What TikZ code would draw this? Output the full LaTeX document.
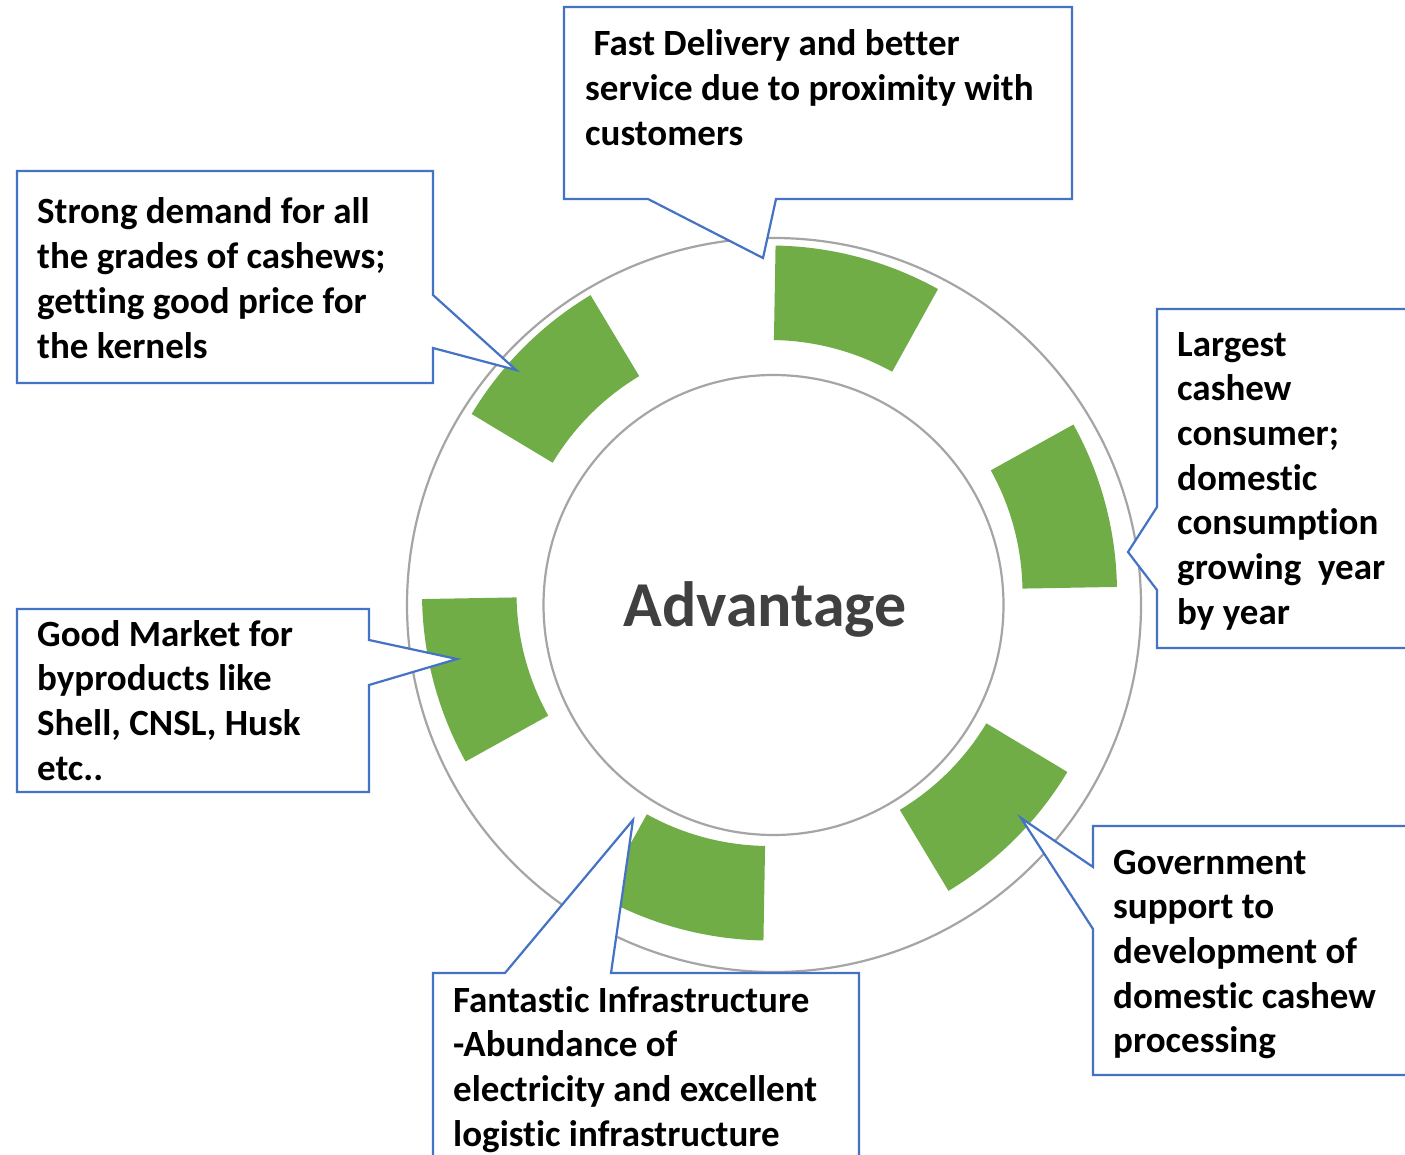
\documentclass[tikz,border=0pt]{standalone}
\usepackage{fontspec}
\setmainfont{Carlito}[Ligatures=NoCommon]
\definecolor{cgreen}{HTML}{70AD47}
\definecolor{cblue}{HTML}{4472C4}
\definecolor{cgray}{HTML}{A5A5A5}
\definecolor{ctext}{HTML}{404040}
\newcommand{\lblbox}[1]{\parbox[t]{700pt}{\fontsize{37}{44.7}\selectfont\bfseries #1}}
\tikzset{
  lbl/.style={anchor=base west, inner sep=0pt, text=black},
  callout/.style={draw=cblue, fill=white, line width=2.2pt, line join=miter},
  ring/.style={draw=cgray, line width=2.2pt},
  seg/.style={fill=cgreen},
}
\begin{document}
\begin{tikzpicture}[x=1pt,y=-1pt]
\useasboundingbox (0,0) rectangle (1405,1155);
\clip (0,0) rectangle (1405,1155);
\fill[white] (0,0) rectangle (1405,1155);
% rings
\draw[ring] (774,605) circle[radius=367];
\draw[ring] (773.5,605) circle[radius=230];
% green segments
\begin{scope}[shift={(769.5,593)}, y=1pt]
  \foreach \c in {75,15,-45,-105,195,135}{
    \pgfmathsetmacro{\a}{\c-14}
    \pgfmathsetmacro{\b}{\c+14}
    \fill[seg] (\a:253) arc[start angle=\a, end angle=\b, radius=253]
      -- (\b:347.5) arc[start angle=\b, end angle=\a, radius=347.5] -- cycle;
  }
\end{scope}
% callout tips
\coordinate (p1) at (763,258);
\coordinate (p2) at (516,370);
\coordinate (p3) at (1128,552);
\coordinate (p4) at (457,659);
\coordinate (p5) at (1021,818);
\coordinate (p6) at (633,820);
% callouts
\draw[callout] (564,7) -- (1072,7) -- (1072,199) -- (776,199) -- (p1) -- (648,199) -- (564,199) -- cycle;
\draw[callout] (17,171) -- (433,171) -- (433,295) -- (p2) -- (433,348) -- (433,383) -- (17,383) -- cycle;
\draw[callout] (1157,309) -- (1415,309) -- (1415,648) -- (1157,648) -- (1157,590) -- (p3) -- (1157,507) -- cycle;
\draw[callout] (17,609) -- (369,609) -- (369,640) -- (p4) -- (369,685) -- (369,792) -- (17,792) -- cycle;
\draw[callout] (1093,826) -- (1415,826) -- (1415,1075) -- (1093,1075) -- (1093,929) -- (p5) -- (1093,867) -- cycle;
\draw[callout] (433,973) -- (505,973) -- (p6) -- (611,973) -- (859,973) -- (859,1165) -- (433,1165) -- cycle;
% texts
\node[lbl] (t1) at (585,56) {\lblbox{\hspace*{0.23em}Fast Delivery and better\\service due to proximity with\\customers}};
\node[lbl] (t2) at (37,224) {\lblbox{Strong demand for all\\the grades of cashews;\\getting good price for\\the kernels}};
\node[lbl] (t3) at (1177,356) {\lblbox{Largest\\cashew\\consumer;\\domestic\\consumption\\growing\ \ year\\by year}};
\node[lbl] (t4) at (37,646) {\lblbox{Good Market for\\byproducts like\\Shell, CNSL, Husk\\etc..}};
\node[lbl] (t5) at (1113,874) {\lblbox{Government\\support to\\development of\\domestic cashew\\processing}};
\node[lbl] (t6) at (453,1012) {\lblbox{Fantastic Infrastructure\\-Abundance of\\electricity and excellent\\logistic infrastructure}};
\node[anchor=base, inner sep=0pt, text=ctext, font=\fontsize{64}{72}\selectfont\bfseries] (adv) at (765,626) {Advantage};
\end{tikzpicture}
\end{document}
